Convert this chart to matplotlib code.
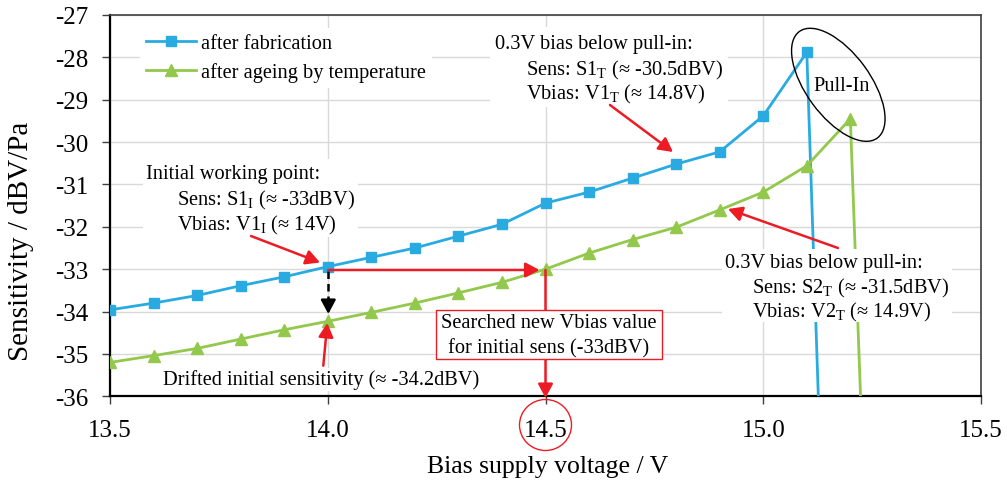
import matplotlib
matplotlib.use('Agg')
import matplotlib.pyplot as plt
from matplotlib.patches import Ellipse, Rectangle
from matplotlib.transforms import ScaledTranslation

# ---------------- data ----------------
voltage_fab = [13.5, 13.6, 13.7, 13.8, 13.9, 14.0, 14.1, 14.2, 14.3, 14.4,
               14.5, 14.6, 14.7, 14.8, 14.9, 15.0, 15.1, 15.2]
sens_fab = [-33.96, -33.80, -33.62, -33.39, -33.18, -32.94, -32.72, -32.50, -32.22, -31.94,
            -31.44, -31.18, -30.85, -30.52, -30.23, -29.38, -27.88, -58.6]

voltage_age = [13.5, 13.6, 13.7, 13.8, 13.9, 14.0, 14.1, 14.2, 14.3, 14.4,
               14.5, 14.6, 14.7, 14.8, 14.9, 15.0, 15.1, 15.2, 15.3]
sens_age = [-35.20, -35.04, -34.87, -34.65, -34.43, -34.23, -34.02, -33.80, -33.56, -33.31,
            -33.00, -32.62, -32.30, -32.01, -31.60, -31.18, -30.56, -29.45, -57.4]

x_ticks = [13.5, 14.0, 14.5, 15.0, 15.5]
x_tick_labels = ['13.5', '14.0', '14.5', '15.0', '15.5']
y_ticks = [-36, -35, -34, -33, -32, -31, -30, -29, -28, -27]
y_tick_labels = ['-36', '-35', '-34', '-33', '-32', '-31', '-30', '-29', '-28', '-27']

series_labels = ['after fabrication', 'after ageing by temperature']

# ---------------- style ----------------
plt.rcParams['font.family'] = ['Liberation Serif', 'DejaVu Serif']
plt.rcParams['mathtext.fontset'] = 'custom'
plt.rcParams['mathtext.rm'] = 'Liberation Serif'
plt.rcParams['axes.unicode_minus'] = False

BLUE = '#29ABE2'
GREEN = '#92C84B'
RED = '#ED1C24'
FS = 14.7

W, H = 1007, 481
fig = plt.figure(figsize=(W / 100, H / 100), dpi=100)
L, R, T, B = 110, 981, 16, 397.3
ax = fig.add_axes([L / W, 1 - B / H, (R - L) / W, (B - T) / H])
ax.set_xlim(13.5, 15.5)
ax.set_ylim(-36, -27)


def P(px, py):
    """reference-pixel position -> data coordinates"""
    return (13.5 + (px - L) / (R - L) * 2.0, -27 - (py - T) / (B - T) * 9.0)


def white_box(x0, y0, x1, y1, ec='none', lw=0, z=4):
    xa, ya = P(x0, y1)
    xb, yb = P(x1, y0)
    ax.add_patch(Rectangle((xa, ya), xb - xa, yb - ya, facecolor='white',
                           edgecolor=ec, linewidth=lw, zorder=z))


def arrow(p_from, p_to, color=RED, z=6, lw=1.8):
    ax.annotate('', xy=P(*p_to), xytext=P(*p_from), annotation_clip=False,
                arrowprops=dict(arrowstyle='-|>,head_length=0.6,head_width=0.32',
                                color=color, lw=lw, shrinkA=0, shrinkB=0,
                                mutation_scale=14), zorder=z)


def txt(px, py, s, ha='left'):
    ax.text(*P(px, py), s, ha=ha, va='center', fontsize=FS, zorder=5)


# ---------------- series ----------------
ax.plot(voltage_fab, sens_fab, color=BLUE, lw=2.0, marker='s', ms=6.7,
        label=series_labels[0], zorder=3)
ax.plot(voltage_age, sens_age, color=GREEN, lw=2.0, marker='^', ms=8.5,
        label=series_labels[1], zorder=3)

# ---------------- axes ----------------
ax.set_xticks(x_ticks)
ax.set_xticklabels(x_tick_labels)
ax.set_yticks(y_ticks)
ax.set_yticklabels(y_tick_labels)
ax.grid(True, color='#d9d9d9', lw=1.0)
ax.set_axisbelow(True)
for s in ('left', 'bottom'):
    ax.spines[s].set_linewidth(1.6)
    ax.spines[s].set_color('black')
for s in ('top', 'right'):
    ax.spines[s].set_linewidth(1.2)
    ax.spines[s].set_color('#404040')
ax.tick_params(axis='both', direction='out', length=5.5, width=1.0,
               color='#404040', labelsize=18)
ax.tick_params(axis='y', pad=10)
ax.tick_params(axis='x', pad=11)

fig.text(547.5 / W, 1 - 466.7 / H, 'Bias supply voltage / V', ha='center',
         va='center', fontsize=18.5)
fig.text(21 / W, 1 - 241 / H, 'Sensitivity / dBV/Pa', ha='center',
         va='center', rotation=90, fontsize=21)

# ---------------- legend ----------------
leg = ax.legend(loc='upper left',
                bbox_to_anchor=((140 - L) / (R - L), 1 - (29 - T) / (B - T)),
                fontsize=FS, frameon=True, fancybox=False, edgecolor='none',
                facecolor='white', framealpha=1, borderpad=0.3,
                handlelength=2.45, handletextpad=0.25, labelspacing=0.42,
                borderaxespad=0, numpoints=1)
leg.set_zorder(5)

# ---------------- annotations ----------------
# upper right text block
white_box(490, 28, 728, 108)
txt(495, 45, '0.3V bias below pull-in:')
txt(526, 70, r'Sens: S1$_\mathregular{T}$ (≈ -30.5dBV)')
txt(526, 94, r'Vbias: V1$_\mathregular{T}$ (≈ 14.8V)')
arrow((610, 106), (673, 153))

# lower right text block
white_box(722, 250, 952, 323)
txt(725, 264, '0.3V bias below pull-in:')
txt(752, 288, r'Sens: S2$_\mathregular{T}$ (≈ -31.5dBV)')
txt(752, 312, r'Vbias: V2$_\mathregular{T}$ (≈ 14.9V)')
arrow((838, 249), (728, 210))

# initial working point block
white_box(143, 160, 358, 238)
txt(146, 175, 'Initial working point:')
txt(177, 200, r'Sens: S1$_\mathregular{I}$ (≈ -33dBV)')
txt(177, 225, r'Vbias: V1$_\mathregular{I}$ (≈ 14V)')
arrow((251, 237), (320, 263.5))

# black dashed drift arrow
xd, y0d = P(328.3, 271.7)
_, y1d = P(328.3, 305)
ax.plot([xd, xd], [y0d, y1d], color='black', lw=1.8, ls=(0, (3, 2)), zorder=6)
arrow((328.3, 303), (328.3, 315), color='black')

# drifted initial sensitivity
white_box(160, 369, 486, 392)
txt(163, 380, 'Drifted initial sensitivity (≈ -34.2dBV)')
arrow((323.3, 366.7), (327.3, 324))

# search arrows
arrow((328.3, 271), (539.5, 271))
arrow((545.5, 271), (545.5, 399), z=3.5)
white_box(436, 311, 662, 360, ec=RED, lw=1.0)
txt(549, 324, 'Searched new Vbias value', ha='center')
txt(549, 349, 'for initial sens (-33dBV)', ha='center')

# pull-in ellipse
cx, cy = P(838.3, 85.8)
ell = Ellipse((0, 0), width=1.32, height=0.64, angle=126.2, fill=False,
              edgecolor='black', lw=1.0,
              transform=fig.dpi_scale_trans + ScaledTranslation(cx, cy, ax.transData))
fig.add_artist(ell)
txt(842, 87, 'Pull-In', ha='center')

# circle around 14.5 tick label
fig.add_artist(Ellipse((545.5 / W, 1 - 426 / H), 52 / W, 51 / H,
                       transform=fig.transFigure, fill=False, edgecolor=RED, lw=1.0))

fig.savefig('out.png', dpi=100)
